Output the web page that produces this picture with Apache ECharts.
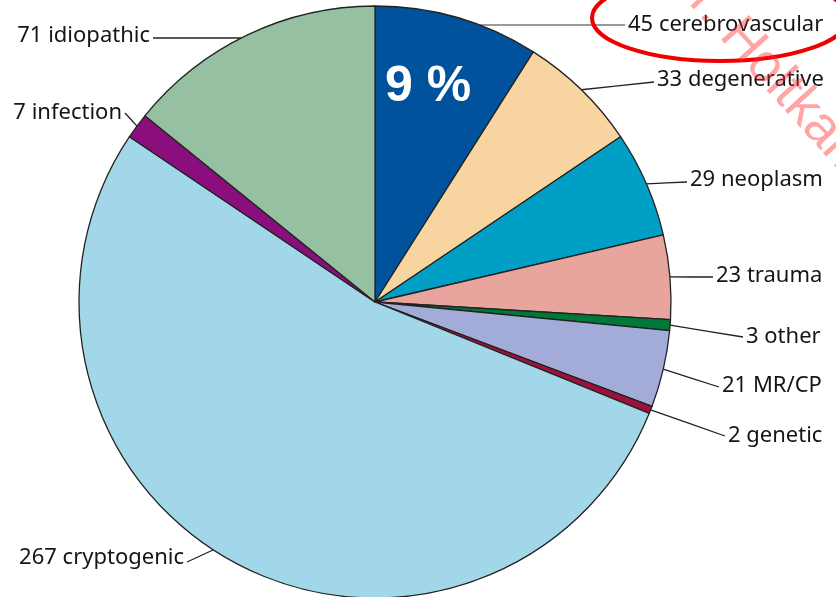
<!DOCTYPE html>
<html>
<head>
<meta charset="utf-8">
<script src="https://cdn.jsdelivr.net/npm/echarts@6/dist/echarts.min.js"></script>
<style>
  html, body { margin: 0; padding: 0; background: #fff; }
  #main { width: 836px; height: 597px; }
</style>
</head>
<body>
<div id="main"></div>
<script>
// Aetiology groups, clockwise from 12 o'clock
var categories = ['cerebrovascular', 'degenerative', 'neoplasm', 'trauma', 'other',
                  'MR/CP', 'genetic', 'cryptogenic', 'infection', 'idiopathic'];
var counts = [45, 33, 29, 23, 3, 21, 2, 267, 7, 71];
var sliceColors = ['#00529c', '#f8d4a0', '#00a0c6', '#e8a59d', '#00783a',
                   '#a3acd8', '#a0103c', '#a2d7ea', '#8a0f7c', '#96c0a2'];

// where each label sits: [x, y, align, lineEndY]
var labelPos = [
  [628, 25, 'left', 25], [657, 80, 'left', 82], [690, 180, 'left', 182], [716, 276, 'left', 277],
  [746, 337, 'left', 337], [722, 386, 'left', 387], [728, 436, 'left', 436],
  [184, 558, 'right', 562], [122, 113, 'right', 113], [150, 36, 'right', 38]
];
// leader lines that leave the rim somewhere other than the slice middle
var lineStart = { 0: [480, 25], 7: [213, 550], 9: [241, 38] };

var chart = echarts.init(document.getElementById('main'));

var pieData = categories.map(function (name, i) {
  var item = { name: name, value: counts[i], itemStyle: { color: sliceColors[i] } };
  if (i === 0) {
    item.labelLine = { lineStyle: { color: '#9a9a9a', width: 2 } };
  }
  return item;
});

chart.setOption({
  animation: false,
  series: [{
    type: 'pie',
    center: [375, 302],
    radius: 296,
    startAngle: 90,
    clockwise: true,
    avoidLabelOverlap: false,
    itemStyle: { borderColor: '#222', borderWidth: 1.3 },
    label: {
      show: true,
      formatter: '{c} {b}',
      fontFamily: 'Noto Sans',
      fontSize: 22,
      color: '#151515'
    },
    labelLine: {
      show: true,
      length: 10,
      length2: 10,
      lineStyle: { color: '#222', width: 1.3 }
    },
    labelLayout: function (params) {
      var i = params.dataIndex;
      var p = labelPos[i];
      var pts = params.labelLinePoints;
      var start = lineStart[i] || (pts ? pts[0] : [p[0], p[3]]);
      var end = [p[0] + (p[2] === 'left' ? -3 : 3), p[3]];
      return {
        x: p[0], y: p[1], align: p[2], verticalAlign: 'middle',
        labelLinePoints: [start, [(start[0] + end[0]) / 2, (start[1] + end[1]) / 2], end]
      };
    },
    emphasis: { disabled: true },
    data: pieData
  }],
  graphic: [
    {
      type: 'text', left: 385, top: 62, silent: true, z: 100,
      style: { text: '9 %', fill: '#fff', font: 'bold 50px "Liberation Sans", Arial, sans-serif' }
    },
    {
      type: 'ellipse', silent: true, z: 100,
      shape: { cx: 720, cy: 18, rx: 128, ry: 43 },
      style: { fill: 'none', stroke: '#ee0000', lineWidth: 4 }
    },
    {
      type: 'text', silent: true, z: 100, x: 673, y: -36, rotation: -48 * Math.PI / 180,
      style: {
        text: 'Dr. Holtkamp', fill: 'rgba(255,40,40,0.42)', verticalAlign: 'middle',
        font: '54px "Liberation Sans", Arial, sans-serif'
      }
    }
  ]
});
</script>
</body>
</html>
